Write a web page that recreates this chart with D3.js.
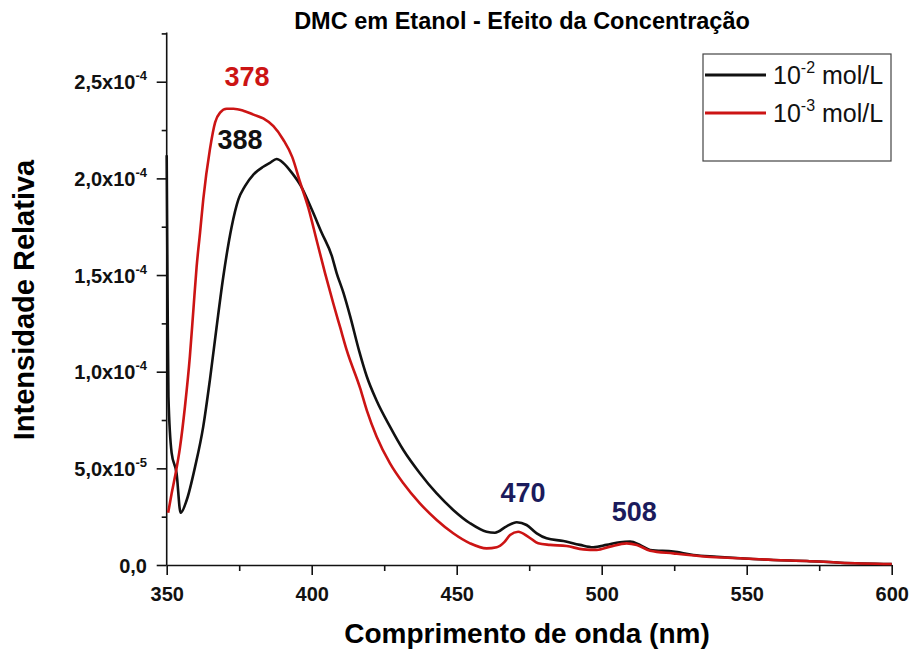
<!DOCTYPE html>
<html>
<head>
<meta charset="utf-8">
<script src="https://cdn.jsdelivr.net/npm/d3@7"></script>
<style>
  body { margin: 0; background: #fff; }
  text { font-family: Arial, "Liberation Sans", sans-serif; }
</style>
</head>
<body>
<svg id="chart" width="909" height="650"></svg>
<script>
// Emission spectra of DMC in ethanol at two concentrations
const wlHigh = [350.0, 350.3, 350.6, 351.7, 353.4, 354.8, 356.9, 359.8, 362.6, 364.9, 367.2, 369.5,
  372.4, 374.7, 377.0, 379.9, 383.3, 385.6, 387.9, 390.2, 393.1, 396.3, 400.0, 403.4, 406.9, 408.6,
  410.9, 413.2, 416.4, 419.0, 422.4, 427.0, 431.6, 437.3, 443.1, 448.8, 454.6, 460.3, 463.2, 467.2,
  470.7, 474.1, 477.6, 481.0, 486.8, 492.5, 497.1, 501.7, 506.3, 509.8, 513.2, 516.7, 524.7, 531.6,
  539.7, 547.8, 559.2, 570.7, 582.2, 600.0];
const intHigh = [21.2e-5, 14.0e-5, 8.7e-5, 5.8e-5, 4.75e-5, 2.7e-5, 3.36e-5, 5.09e-5, 7.16e-5, 9.58e-5, 12.3e-5, 14.9e-5,
  17.5e-5, 18.9e-5, 19.6e-5, 20.2e-5, 20.6e-5, 20.8e-5, 21.0e-5, 20.8e-5, 20.3e-5, 19.6e-5, 18.4e-5, 17.2e-5, 16.0e-5, 15.1e-5,
  14.1e-5, 12.9e-5, 11.05e-5, 9.75e-5, 8.5e-5, 7.16e-5, 5.95e-5, 4.75e-5, 3.7e-5, 2.85e-5, 2.16e-5, 1.72e-5, 1.67e-5, 2.0e-5,
  2.21e-5, 2.07e-5, 1.64e-5, 1.38e-5, 1.24e-5, 1.04e-5, 0.92e-5, 1.04e-5, 1.18e-5, 1.21e-5, 1.04e-5, 0.78e-5, 0.69e-5, 0.52e-5,
  0.43e-5, 0.35e-5, 0.26e-5, 0.21e-5, 0.12e-5, 0.05e-5];

const wlLow = [350.5, 351.7, 352.9, 354.6, 356.3, 358.0, 359.2, 360.3, 361.5, 362.6, 364.9, 366.7,
  368.4, 370.7, 373.0, 376.4, 379.9, 383.3, 386.8, 390.2, 393.3, 396.0, 398.8, 401.7, 404.6, 407.5,
  409.8, 412.1, 416.7, 419.0, 422.4, 427.0, 431.6, 437.3, 443.1, 448.8, 454.6, 460.3, 463.8, 466.5,
  468.4, 471.2, 474.7, 478.1, 482.2, 487.9, 493.7, 498.3, 502.9, 508.6, 512.1, 516.7, 524.7, 536.2,
  547.8, 559.2, 570.7, 582.2, 600.0];
const intLow = [2.7e-5, 3.7e-5, 4.6e-5, 6.1e-5, 8.2e-5, 10.8e-5, 13.2e-5, 15.4e-5, 17.2e-5, 18.9e-5, 21.5e-5, 22.9e-5,
  23.4e-5, 23.6e-5, 23.6e-5, 23.5e-5, 23.3e-5, 23.1e-5, 22.7e-5, 22.0e-5, 21.1e-5, 19.8e-5, 18.5e-5, 16.8e-5, 15.1e-5, 13.5e-5,
  12.3e-5, 11.1e-5, 9.15e-5, 8.0e-5, 6.64e-5, 5.26e-5, 4.23e-5, 3.19e-5, 2.33e-5, 1.64e-5, 1.12e-5, 0.86e-5, 0.92e-5, 1.2e-5,
  1.55e-5, 1.72e-5, 1.46e-5, 1.12e-5, 1.04e-5, 0.98e-5, 0.81e-5, 0.78e-5, 0.95e-5, 1.12e-5, 1.04e-5, 0.74e-5, 0.60e-5, 0.43e-5,
  0.35e-5, 0.26e-5, 0.21e-5, 0.12e-5, 0.05e-5];

const seriesLabels = ["-2", "-3"];          // exponents of the concentrations (mol/L)
const seriesColors = ["#111111", "#cc1414"];

const xTicks = [350, 400, 450, 500, 550, 600];
const xMinorTicks = [375, 425, 475, 525, 575];
const yTicks = [0, 5e-5, 1e-4, 1.5e-4, 2e-4, 2.5e-4];
const yTickMantissa = ["0,0", "5,0x10", "1,0x10", "1,5x10", "2,0x10", "2,5x10"];
const yTickExponent = ["", "-5", "-4", "-4", "-4", "-4"];
const yMinorTicks = [2.5e-5, 7.5e-5, 1.25e-4, 1.75e-4, 2.25e-4, 2.75e-4];

// Peak annotations: wavelength, where the label sits (nm, intensity), colour
const peakWl = [378, 388, 470, 508];
const peakLabelX = [377.7, 375.3, 472.9, 511.2];
const peakLabelY = [24.8e-5, 21.5e-5, 3.26e-5, 2.28e-5];
const peakColors = ["#cc1414", "#111111", "#1b1b5c", "#1b1b5c"];

const svg = d3.select("#chart");
const plotLeft = 166.7, plotRight = 891.7, plotTop = 33.4, plotBottom = 565;

const x = d3.scaleLinear().domain([350, 600]).range([plotLeft, plotRight]);
const y = d3.scaleLinear().domain([0, 2.75e-4]).range([plotBottom, plotTop]);

// Title
svg.append("text")
  .attr("x", 522).attr("y", 29)
  .attr("text-anchor", "middle")
  .attr("font-weight", "bold").attr("font-size", 23.5)
  .text("DMC em Etanol - Efeito da Concentração");

// Axes
const xAxis = svg.append("g").attr("transform", `translate(0,${plotBottom})`)
  .call(d3.axisBottom(x).tickValues(xTicks).tickSize(10).tickSizeOuter(0).tickFormat(d3.format("d")));
svg.append("g").attr("transform", `translate(0,${plotBottom})`)
  .call(d3.axisBottom(x).tickValues(xMinorTicks).tickSize(6).tickFormat(""))
  .select(".domain").remove();
xAxis.selectAll("text")
  .attr("font-size", 20).attr("font-weight", "bold").attr("fill", "#111")
  .attr("font-family", "Arial, 'Liberation Sans', sans-serif")
  .attr("y", 35.5).attr("dy", 0);

const yAxis = svg.append("g").attr("transform", `translate(${plotLeft},0)`)
  .call(d3.axisLeft(y).tickValues(yTicks).tickSize(10).tickSizeOuter(0).tickFormat(""));
svg.append("g").attr("transform", `translate(${plotLeft},0)`)
  .call(d3.axisLeft(y).tickValues(yMinorTicks).tickSize(5).tickFormat(""))
  .select(".domain").remove();
yAxis.select(".domain").attr("d", `M0,${plotBottom}V${plotTop - 1}`);

svg.selectAll("path.domain, .tick line").attr("stroke", "#111").attr("stroke-width", 1.6);

// Y tick labels with superscript exponents
const yLab = svg.append("g");
yTicks.forEach((v, i) => {
  const t = yLab.append("text")
    .attr("x", 147).attr("y", y(v) + 7.5)
    .attr("text-anchor", "end")
    .attr("font-weight", "bold").attr("font-size", 20).attr("fill", "#111");
  t.append("tspan").text(yTickMantissa[i]);
  if (yTickExponent[i]) {
    t.append("tspan").attr("dy", -9).attr("font-size", 13).text(yTickExponent[i]);
  }
});

// Axis titles
svg.append("text")
  .attr("x", 527).attr("y", 643)
  .attr("text-anchor", "middle")
  .attr("font-weight", "bold").attr("font-size", 28)
  .text("Comprimento de onda (nm)");
svg.append("text")
  .attr("transform", "translate(34,300) rotate(-90)")
  .attr("text-anchor", "middle")
  .attr("font-weight", "bold").attr("font-size", 29)
  .text("Intensidade Relativa");

// Spectra
const line = d3.line()
  .x(d => x(d[0])).y(d => y(d[1]))
  .curve(d3.curveMonotoneX);
const series = [d3.zip(wlHigh, intHigh), d3.zip(wlLow, intLow)];
svg.append("g").selectAll("path")
  .data(series)
  .join("path")
  .attr("d", line)
  .attr("fill", "none")
  .attr("stroke", (d, i) => seriesColors[i])
  .attr("stroke-width", 2.6)
  .attr("stroke-linejoin", "round");

// Peak labels
peakWl.forEach((p, i) => {
  svg.append("text")
    .attr("x", x(peakLabelX[i])).attr("y", y(peakLabelY[i]))
    .attr("text-anchor", "middle")
    .attr("font-weight", "bold").attr("font-size", 27)
    .attr("fill", peakColors[i])
    .text(p);
});

// Legend
const lg = svg.append("g");
lg.append("rect")
  .attr("x", 703).attr("y", 54).attr("width", 188).attr("height", 107)
  .attr("fill", "#fff").attr("stroke", "#444").attr("stroke-width", 1.2);
seriesLabels.forEach((s, i) => {
  const yy = 75 + i * 38;
  lg.append("line")
    .attr("x1", 705).attr("x2", 766).attr("y1", yy).attr("y2", yy)
    .attr("stroke", seriesColors[i]).attr("stroke-width", 3);
  const t = lg.append("text")
    .attr("x", 773).attr("y", yy + 8.5)
    .attr("font-size", 25).attr("fill", "#111");
  t.append("tspan").text("10");
  t.append("tspan").attr("dy", -11).attr("font-size", 16).text(s);
  t.append("tspan").attr("dy", 11).text(" mol/L");
});
</script>
</body>
</html>
